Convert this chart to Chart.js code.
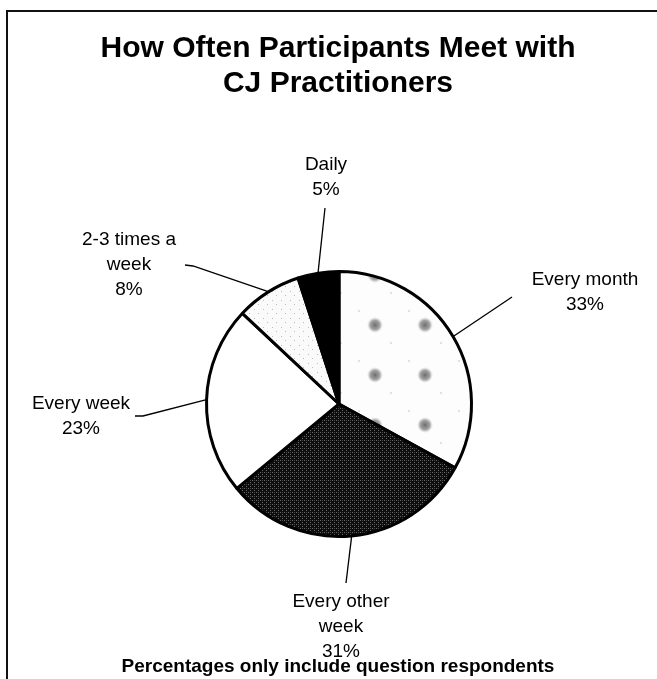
<!DOCTYPE html>
<html>
<head>
<meta charset="utf-8">
<title>How Often Participants Meet with CJ Practitioners</title>
<script src="https://cdn.jsdelivr.net/npm/chart.js@4/dist/chart.umd.min.js"></script>
<style>
  html, body { margin: 0; padding: 0; background: #fff; }
  #wrap { width: 657px; height: 679px; position: relative; }
</style>
</head>
<body>
<div id="wrap"><canvas id="pieChart" width="657" height="679"></canvas></div>
<script>
// Chart data
const titleLines = ["How Often Participants Meet with", "CJ Practitioners"];
const footnote = "Percentages only include question respondents";
const categories = ["Every month", "Every other week", "Every week", "2-3 times a week", "Daily"];
const labelLines = [["Every month"], ["Every other", "week"], ["Every week"], ["2-3 times a", "week"], ["Daily"]];
const percentValues = [33, 31, 23, 8, 5];

// Label placement (leader bend, leader end, text centre), one per slice
const labelLayout = [
  { bend: null, lineTo: [512, 297], text: [585, 280] },
  { bend: null, lineTo: [346, 583], text: [341, 602] },
  { bend: [143, 416], lineTo: [135, 416], text: [81, 404] },
  { bend: [193, 266], lineTo: [185, 265], text: [129, 240] },
  { bend: null, lineTo: [325, 208], text: [326, 165] },
];

/**
 * Build a small repeating fill for the scanned-looking slices
 */
function makePattern(size, base, draw) {
  const c = document.createElement("canvas");
  c.width = size;
  c.height = size;
  const g = c.getContext("2d");
  g.fillStyle = base;
  g.fillRect(0, 0, size, size);
  draw(g);
  return g.createPattern(c, "repeat");
}

const ctx = document.getElementById("pieChart").getContext("2d");

// light background with fuzzy grey blotches
const monthFill = makePattern(50, "#fdfdfd", (g) => {
  const grad = g.createRadialGradient(25, 25, 0, 25, 25, 8);
  grad.addColorStop(0, "rgba(110,110,110,1)");
  grad.addColorStop(0.6, "rgba(140,140,140,0.8)");
  grad.addColorStop(1, "rgba(200,200,200,0)");
  g.fillStyle = grad;
  g.fillRect(15, 15, 20, 20);
  g.fillStyle = "#e0e0e0";
  g.fillRect(8, 10, 2, 2);
  g.fillRect(40, 42, 2, 2);
});

// dark dithered grey
const otherWeekFill = makePattern(4, "#0d0d0d", (g) => {
  g.fillStyle = "#6a6a6a";
  g.fillRect(0, 0, 1, 1);
  g.fillRect(2, 2, 1, 1);
  g.fillStyle = "#444";
  g.fillRect(2, 0, 1, 1);
});

// nearly white with faint specks
const twoThreeFill = makePattern(9, "#fafafa", (g) => {
  g.fillStyle = "#bdbdbd";
  g.fillRect(2, 3, 1, 1);
  g.fillRect(6, 7, 1, 1);
});

const sliceColors = [monthFill, otherWeekFill, "#ffffff", twoThreeFill, "#000000"];

// Frame, title and footnote
const framePlugin = {
  id: "frame",
  beforeDraw(chart) {
    const c = chart.ctx;
    c.save();
    c.fillStyle = "#fff";
    c.fillRect(0, 0, chart.width, chart.height);
    c.strokeStyle = "#111";
    c.lineWidth = 2;
    c.strokeRect(7, 11, chart.width + 20, chart.height + 20);

    c.fillStyle = "#000";
    c.textAlign = "center";
    c.textBaseline = "middle";
    c.font = "bold 30px 'Liberation Sans', Arial, sans-serif";
    titleLines.forEach((t, i) => c.fillText(t, 338, 49 + i * 35));
    c.restore();
  },
  afterDraw(chart) {
    const c = chart.ctx;
    c.save();
    c.fillStyle = "#000";
    c.textAlign = "center";
    c.textBaseline = "middle";
    c.font = "bold 19px 'Liberation Sans', Arial, sans-serif";
    c.fillText(footnote, 338, 667);
    c.restore();
  },
};

// Outside labels with leader lines, anchored to each arc
const leaderPlugin = {
  id: "leaders",
  afterDatasetsDraw(chart) {
    const meta = chart.getDatasetMeta(0);
    const values = chart.data.datasets[0].data;
    const c = chart.ctx;
    c.save();
    meta.data.forEach((arc, i) => {
      const { x, y, startAngle, endAngle, outerRadius } = arc.getProps(
        ["x", "y", "startAngle", "endAngle", "outerRadius"],
        true,
      );
      const mid = (startAngle + endAngle) / 2;
      const sx = x + Math.cos(mid) * (outerRadius + 1);
      const sy = y + Math.sin(mid) * (outerRadius + 1);
      const lay = labelLayout[i];

      c.strokeStyle = "#000";
      c.lineWidth = 1.3;
      c.beginPath();
      c.moveTo(sx, sy);
      if (lay.bend) c.lineTo(lay.bend[0], lay.bend[1]);
      c.lineTo(lay.lineTo[0], lay.lineTo[1]);
      c.stroke();

      const lines = labelLines[i].concat([values[i] + "%"]);
      c.fillStyle = "#000";
      c.font = "19px 'Liberation Sans', Arial, sans-serif";
      c.textAlign = "center";
      c.textBaseline = "middle";
      lines.forEach((t, k) => c.fillText(t, lay.text[0], lay.text[1] + k * 25));
    });
    c.restore();
  },
};

new Chart(ctx, {
  type: "pie",
  data: {
    labels: categories,
    datasets: [
      {
        data: percentValues,
        backgroundColor: sliceColors,
        borderColor: "#000",
        borderWidth: 3,
        hoverOffset: 0,
        offset: 0,
      },
    ],
  },
  options: {
    responsive: false,
    animation: false,
    events: [],
    layout: {
      padding: { left: 205, right: 184, top: 270, bottom: 141 },
    },
    plugins: {
      legend: { display: false },
      title: { display: false },
      tooltip: { enabled: false },
    },
  },
  plugins: [framePlugin, leaderPlugin],
});
</script>
</body>
</html>
